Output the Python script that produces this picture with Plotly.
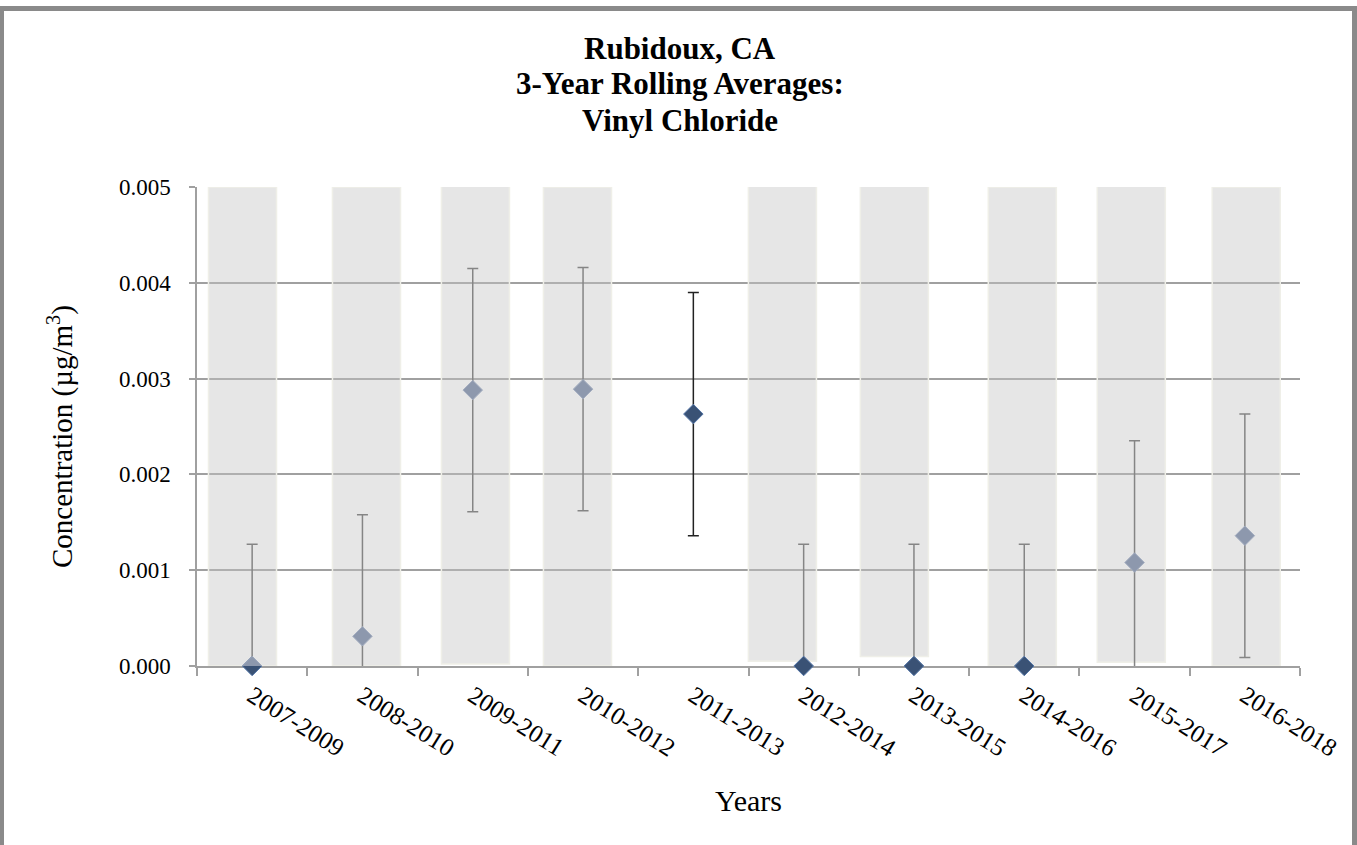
import plotly.graph_objects as go

# ---------------- data ----------------
categories = ["2007-2009", "2008-2010", "2009-2011", "2010-2012", "2011-2013",
              "2012-2014", "2013-2015", "2014-2016", "2015-2017", "2016-2018"]

# 3-year rolling averages (µg/m3); light series and dark series
avg_light = [0.0, 0.00031, 0.00288, 0.00289, None, 0.0, 0.0, 0.0, 0.00108, 0.00136]
avg_dark = [0.0, None, None, None, 0.00263, 0.0, 0.0, 0.0, None, None]

# confidence interval half-widths
ci_light = [0.00127, 0.00127, 0.00127, 0.00127, None, 0.00127, 0.00127, 0.00127, 0.00127, 0.00127]
ci_dark = [0.0, None, None, None, 0.00127, 0.0, 0.0, 0.0, None, None]

# shaded band extents (µg/m3)
band_low = [0.0, 0.0, 0.00002, 0.0, None, 0.00005, 0.0001, 0.0, 0.00004, 0.0]
band_high = [0.005, 0.005, 0.00501, 0.005, None, 0.00505, 0.0051, 0.005, 0.00503, 0.005]

y_ticks = [0.000, 0.001, 0.002, 0.003, 0.004, 0.005]
y_tick_labels = ["0.000", "0.001", "0.002", "0.003", "0.004", "0.005"]

title_lines = ["Rubidoux, CA", "3-Year Rolling Averages:", "Vinyl Chloride"]

# ---------------- styles ----------------
band_offset = [-0.396, -0.272, -0.284, -0.359, 0.0, -0.501, -0.486, -0.326, -0.338, -0.296]
band_width = 0.617
SERIF = "Liberation Serif"
LIGHT = "#8d98ad"
DARK = "#3a5275"
GRID = "#a0a0a0"

fig = go.Figure()

# shaded bands
bx, bbase, bh, boff = [], [], [], []
for c, lo, hi, off in zip(categories, band_low, band_high, band_offset):
    if lo is None:
        continue
    bx.append(c)
    bbase.append(lo)
    bh.append(hi - lo)
    boff.append(off)
fig.add_trace(go.Bar(
    x=bx, y=bh, base=bbase, offset=boff, width=band_width,
    marker=dict(color="rgba(195,195,195,0.42)", line=dict(color="#efefe8", width=1.5)),
    cliponaxis=False, hoverinfo="skip", showlegend=False,
))

# dark marker for first category (sits under the light one)
fig.add_trace(go.Scatter(
    x=[categories[0]], y=[avg_dark[0]], mode="markers",
    marker=dict(symbol="diamond", size=15, color=DARK, line=dict(color="#5577a8", width=1)),
    cliponaxis=False, showlegend=False,
))

# light series
lx, ly, le = [], [], []
for c, v, e in zip(categories, avg_light, ci_light):
    if v is None:
        continue
    lx.append(c); ly.append(v); le.append(e)
fig.add_trace(go.Scatter(
    x=lx, y=ly, mode="markers",
    marker=dict(symbol="diamond", size=15, color=LIGHT, line=dict(color="#a3adc0", width=1)),
    error_y=dict(type="data", array=le, color="#858585", thickness=1.5, width=5.5),
    cliponaxis=True, showlegend=False,
))

# dark series
dx, dy, de = [], [], []
for c, v, e in list(zip(categories, avg_dark, ci_dark))[1:]:
    if v is None:
        continue
    dx.append(c); dy.append(v); de.append(e)
fig.add_trace(go.Scatter(
    x=dx, y=dy, mode="markers",
    marker=dict(symbol="diamond", size=15, color=DARK, line=dict(color="#5577a8", width=1)),
    error_y=dict(type="data", array=de, color="#222222", thickness=1.5, width=5.5),
    cliponaxis=False, showlegend=False,
))

L, R, T, B = 197, 57, 187, 179
W, H = 1357, 845
pw, ph = W - L - R, H - T - B

def px_x(p):
    return (p - L) / pw

def px_y(p):
    return (H - B - p) / ph

annotations = []
for line, ypx in zip(title_lines, [48, 84, 120]):
    annotations.append(dict(
        text="<b>" + line + "</b>", xref="paper", yref="paper",
        x=px_x(680), y=px_y(ypx), xanchor="center", yanchor="middle",
        showarrow=False, font=dict(family=SERIF, size=31, color="black")))
annotations += [
    dict(text="Concentration (µg/m<sup>3</sup>)", xref="paper", yref="paper",
         x=px_x(60), y=px_y(437), xanchor="center", yanchor="middle", textangle=-90,
         showarrow=False, font=dict(family=SERIF, size=29, color="black")),
    dict(text="Years", xref="paper", yref="paper",
         x=0.5, y=px_y(800), xanchor="center", yanchor="middle",
         showarrow=False, font=dict(family=SERIF, size=30, color="black")),
]

fig.update_layout(
    width=W, height=H,
    margin=dict(l=L, r=R, t=T, b=B),
    paper_bgcolor="white", plot_bgcolor="white",
    barmode="overlay",
    font=dict(family=SERIF, color="black"),
    xaxis=dict(
        type="category", categoryorder="array", categoryarray=categories,
        range=[-0.5, 9.5], tickson="boundaries", ticks="outside", ticklen=8,
        tickcolor=GRID, tickwidth=1.5, showline=True, linecolor=GRID, linewidth=1.5,
        showgrid=False, tickangle=32, layer="below traces", ticklabelstandoff=4,
        tickfont=dict(family=SERIF, size=25, color="black"),
    ),
    yaxis=dict(
        range=[0, 0.005], tickvals=y_ticks, ticktext=y_tick_labels,
        ticks="outside", ticklen=6, tickcolor=GRID, tickwidth=1.5,
        showline=True, linecolor=GRID, linewidth=1.5,
        showgrid=True, gridcolor=GRID, gridwidth=1.5, zeroline=False,
        layer="below traces", ticklabelstandoff=14,
        tickfont=dict(family=SERIF, size=23, color="black"),
    ),
    annotations=annotations,
    shapes=[
        dict(type="rect", xref="paper", yref="paper",
             x0=px_x(1.5), x1=px_x(1354.5), y0=px_y(860), y1=px_y(8.5),
             line=dict(color="#8a8a8a", width=5), fillcolor="rgba(0,0,0,0)", layer="above"),
    ],
)

fig.write_html("out.html", config={"displayModeBar": False},
               post_script="document.body.style.margin='0';")
